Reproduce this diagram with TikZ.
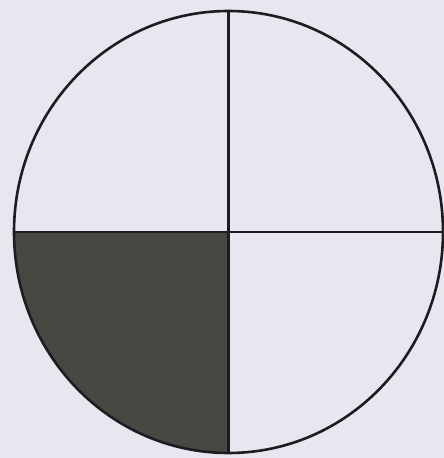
\documentclass[tikz,border=0pt]{standalone}
\definecolor{paper}{RGB}{232,230,238}
\definecolor{quadfill}{RGB}{72,72,66}
\definecolor{ink}{RGB}{28,28,34}
\begin{document}
\begin{tikzpicture}[x=1pt,y=1pt,
  outline/.style={draw=ink,line width=2.6pt}]
\fill[paper] (0,0) rectangle (444,458);
\useasboundingbox (0,0) rectangle (444,458);
\coordinate (c) at (228.5,226);
\coordinate (l) at (14,226);
\coordinate (r) at (443,226);
\coordinate (t) at (228.5,448);
\coordinate (b) at (228.5,5);
\fill[quadfill] (c) -- (l) arc[start angle=180,end angle=270,x radius=214.5,y radius=221] -- cycle;
\draw[outline] (c) ellipse[x radius=214.5,y radius=221];
\draw[outline] (l) -- (r);
\draw[outline] (t) -- (b);
\end{tikzpicture}
\end{document}
